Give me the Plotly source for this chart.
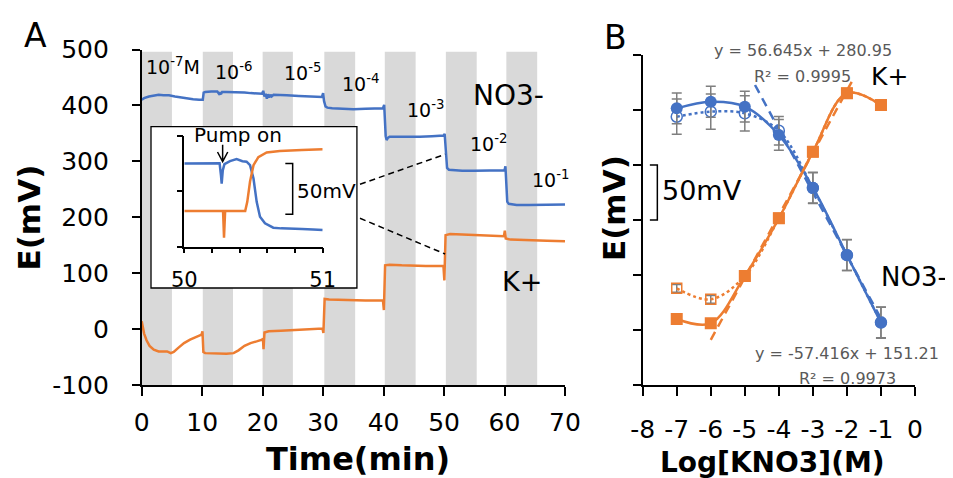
import plotly.graph_objects as go

W, H = 953, 478
OFF = 8                      # page offset of the plot inside the browser window
FW, FH = W - OFF, H - OFF    # figure size
BLUE = "#4472C4"
ORANGE = "#ED7D31"
GRAYBAND = "#D9D9D9"
ERRC = "#7F7F7F"
EQC = "#595959"
FONT = "DejaVu Sans"

# ---------------- Panel A data (time in min, potential in mV) ----------------
no3_t = [0, 0.4, 1.2, 2.0, 2.8, 3.6, 4.5, 5.5, 6.5, 7.5,
         8.5, 9.5, 10.1, 10.25, 10.5, 11.5, 12.5, 12.9, 13.0, 13.1,
         13.3, 14, 15, 16, 17, 18, 19, 19.9, 20.1, 20.3,
         20.5, 20.7, 20.9, 21.1, 21.3, 21.5, 21.8, 22.5, 24, 26,
         28, 29.8, 30.0, 30.15, 30.4, 30.7, 31.5, 33, 35, 37,
         39, 39.9, 40.1, 40.2, 40.35, 40.5, 40.7, 41, 42, 44,
         46, 48, 49.9, 50.1, 50.2, 50.35, 50.5, 50.8, 51.5, 53,
         55, 57, 59, 60.0, 60.15, 60.3, 60.45, 60.7, 61.2, 62,
         64, 66, 68, 70]
no3_e = [410, 413, 416, 418, 419, 418, 418, 416, 414, 413,
         411, 410, 410, 423, 424, 425, 425, 419, 424, 420,
         424, 424, 424, 423, 423, 422, 422, 421, 426, 416,
         421, 412, 420, 414, 419, 416, 419, 419, 418, 417,
         416, 415, 422, 408, 398, 396, 395, 394, 393, 394,
         394, 395, 401, 372, 345, 338, 342, 344, 344, 343,
         344, 345, 346, 349, 330, 300, 288, 285, 284, 283,
         283, 283, 283, 284, 291, 258, 228, 224, 223, 222,
         222, 222, 223, 223]

k_t = [0, 0.15, 0.4, 0.8, 1.3, 2.0, 2.8, 3.5, 4.2, 4.8,
       5.3, 6.0, 7.0, 8.0, 9.0, 9.9, 10.05, 10.2, 10.5, 12,
       14, 15.2, 16, 17, 18, 19, 19.9, 20.05, 20.15, 20.3,
       21, 23, 25, 27, 29, 29.9, 30.05, 30.25, 31, 33,
       35, 37, 39.9, 40.05, 40.25, 41, 43, 45, 47, 49.9,
       50.05, 50.25, 51, 53, 55, 57, 59.9, 60.05, 60.2, 61,
       63, 65, 67, 70]
k_e = [14, 5, -8, -20, -30, -37, -40, -40, -40, -43,
       -41, -34, -25, -19, -14, -10, -4, -41, -43, -44,
       -44, -43, -38, -30, -25, -22, -19, -17, -36, -6,
       -4, -3, -2, -1, 1, 1, -7, 54, 53, 52,
       52, 51, 51, 34, 114, 115, 114, 113, 113, 113,
       87, 168, 170, 169, 168, 167, 166, 176, 162, 160,
       159, 158, 158, 157]

a_xticks = [0, 10, 20, 30, 40, 50, 60, 70]
a_yticks = [-100, 0, 100, 200, 300, 400, 500]

# pump-on periods (grey bands), min
band_start = [0, 10.1, 20.0, 30.2, 40.2, 50.3, 60.3]
band_end = [5.0, 15.1, 25.0, 35.3, 45.3, 55.4, 65.4]

# inset: 50-51 min zoom (relative mV)
ins_no3_t = [50, 50.1, 50.2, 50.255, 50.265, 50.27, 50.278, 50.29, 50.33, 50.378,
             50.42, 50.45, 50.475, 50.5, 50.523, 50.547, 50.583, 50.643, 50.7, 50.764,
             50.85, 50.93, 51]
ins_no3_e = [81.8, 81.8, 81.5, 82, 70, 62, 75, 81, 84, 86,
             84, 83.5, 80, 67, 44, 29.5, 23, 18.7, 18, 18,
             17.5, 17, 16.4]
ins_k_t = [50, 50.1, 50.2, 50.28, 50.287, 50.295, 50.35, 50.44, 50.455, 50.475,
           50.5, 50.535, 50.595, 50.69, 50.85, 51]
ins_k_e = [35, 35, 35, 35, 8.8, 35, 35, 35, 44, 64,
           80, 88, 92.6, 94, 95, 95.6]
ins_xticks = [50, 50.2, 50.4, 50.6, 50.8, 51]
ins_xlabels = ["50", "", "", "", "", "51"]

# ---------------- Panel B data ----------------
logc = [-7, -6, -5, -4, -3, -2, -1]
no3_mean = [151.5, 157.5, 153.0, 127.3, 79.4, 18.2, -43.4]
no3_err = [14, 14, 14, 14, 14, 14, 14]
no3_open = [143.9, 148.5, 147.0, 131.2, 79.0, 18.0, -43.0]
no3_open_err = [16, 16, 16, 13, 14, 14, 14]
k_mean = [-40.0, -43.9, -0.9, 51.5, 112.0, 165.2, 154.5]
k_open = [-12.1, -22.1, -0.9, 51.5, 112.0, 165.2, 154.5]
k_open_err = [3.5, 3.5, 0, 0, 0, 0, 0]
no3_trend_x = [-4.7, -1.0]
no3_trend_y = [172.7, -39.6]
k_trend_x = [-6.0, -1.8]
k_trend_y = [-58.9, 179.0]
b_xticks = [-8, -7, -6, -5, -4, -3, -2, -1, 0]
b_yticks = [-100, -50, 0, 50, 100, 150, 200]


def PX(px):
    return (px - OFF) / FW


def PY(py):
    return 1 - (py - OFF) / FH


fig = go.Figure()

# Panel A traces
fig.add_trace(go.Scatter(x=no3_t, y=no3_e, mode="lines", line=dict(color=BLUE, width=2.5),
                         xaxis="x", yaxis="y", showlegend=False))
fig.add_trace(go.Scatter(x=k_t, y=k_e, mode="lines", line=dict(color=ORANGE, width=2.5),
                         xaxis="x", yaxis="y", showlegend=False))
# Inset traces
fig.add_trace(go.Scatter(x=ins_no3_t, y=ins_no3_e, mode="lines", line=dict(color=BLUE, width=2.5),
                         xaxis="x3", yaxis="y3", showlegend=False))
fig.add_trace(go.Scatter(x=ins_k_t, y=ins_k_e, mode="lines", line=dict(color=ORANGE, width=2.5),
                         xaxis="x3", yaxis="y3", showlegend=False))

# Panel B traces
errs = dict(type="data", color=ERRC, thickness=1.5, width=5)
fig.add_trace(go.Scatter(x=no3_trend_x, y=no3_trend_y, mode="lines",
                         line=dict(color=BLUE, width=2.5, dash="9px,6px"),
                         xaxis="x2", yaxis="y2", showlegend=False))
fig.add_trace(go.Scatter(x=k_trend_x, y=k_trend_y, mode="lines",
                         line=dict(color=ORANGE, width=2.5, dash="9px,6px"),
                         xaxis="x2", yaxis="y2", showlegend=False))
fig.add_trace(go.Scatter(x=logc, y=no3_open, mode="lines+markers",
                         line=dict(color=BLUE, width=2.5, dash="dot", shape="spline", smoothing=1),
                         marker=dict(symbol="circle-open", size=11, color=BLUE, line=dict(width=1.5)),
                         error_y=dict(array=no3_open_err, **errs),
                         xaxis="x2", yaxis="y2", showlegend=False))
fig.add_trace(go.Scatter(x=logc, y=no3_mean, mode="lines+markers",
                         line=dict(color=BLUE, width=2.5, shape="spline", smoothing=1),
                         marker=dict(symbol="circle", size=12, color=BLUE),
                         error_y=dict(array=no3_err, **errs),
                         xaxis="x2", yaxis="y2", showlegend=False))
fig.add_trace(go.Scatter(x=logc, y=k_open, mode="lines+markers",
                         line=dict(color=ORANGE, width=2.5, dash="dot", shape="spline", smoothing=1),
                         marker=dict(symbol="square-open", size=10, color=ORANGE, line=dict(width=1.5)),
                         error_y=dict(array=k_open_err, **errs),
                         xaxis="x2", yaxis="y2", showlegend=False))
fig.add_trace(go.Scatter(x=logc, y=k_mean, mode="lines+markers",
                         line=dict(color=ORANGE, width=2.5, shape="spline", smoothing=1),
                         marker=dict(symbol="square", size=12, color=ORANGE),
                         xaxis="x2", yaxis="y2", showlegend=False))

shapes = []
for s, e in zip(band_start, band_end):
    shapes.append(dict(type="rect", xref="x", yref="y", x0=s, x1=e, y0=-100, y1=496,
                       fillcolor=GRAYBAND, line=dict(width=0), layer="below"))
# inset frame (white box)
shapes.append(dict(type="rect", xref="x", yref="y", x0=1.54, x1=35.59, y0=73.5, y1=362,
                   fillcolor="white", line=dict(color="black", width=1.3), layer="below"))
# connectors
shapes.append(dict(type="line", xref="x", yref="y", x0=36.1, y0=259, x1=50.17, y1=312.6,
                   line=dict(color="black", width=1.5, dash="6px,4px")))
shapes.append(dict(type="line", xref="x", yref="y", x0=36.1, y0=198.1, x1=50.17, y1=134.3,
                   line=dict(color="black", width=1.5, dash="6px,4px")))
# inset 50 mV bracket
shapes.append(dict(type="path", xref="x3", yref="y3",
                   path="M 50.73,81.8 L 50.783,81.8 L 50.783,31.8 L 50.73,31.8",
                   line=dict(color="black", width=1.5)))
# pump-on arrow
shapes.append(dict(type="path", xref="x3", yref="y3",
                   path="M 50.277,100 L 50.277,83.5 M 50.24,93 L 50.277,83.5 L 50.314,93",
                   line=dict(color="black", width=1.5)))
# panel B 50 mV bracket
shapes.append(dict(type="path", xref="x2", yref="y2",
                   path="M -7.79,100 L -7.57,100 L -7.57,50 L -7.79,50",
                   line=dict(color="black", width=1.5)))

ann = []


def txt(text, px, py, size, color="black", bold=False, angle=0, xanchor="center", family=FONT):
    if bold:
        text = "<b>" + text + "</b>"
    ann.append(dict(text=text, x=PX(px), y=PY(py), xref="paper", yref="paper", showarrow=False,
                    xanchor=xanchor, yanchor="middle", textangle=angle,
                    font=dict(family=family, size=size, color=color)))


txt("A", 35, 36, 33)
txt("B", 615, 37, 33)
txt("E(mV)", 28.5, 218, 31, bold=True, angle=-90)
txt("E(mV)", 614, 208, 31, bold=True, angle=-90)
txt("Time(min)", 358, 459, 32, bold=True)
txt("Log[KNO3](M)", 772, 462, 28, bold=True)

txt("10<sup>-7</sup>M", 172.5, 66, 19)
txt("10<sup>-6</sup>", 233.5, 71, 19)
txt("10<sup>-5</sup>", 302, 72, 19)
txt("10<sup>-4</sup>", 360, 83.5, 19)
txt("10<sup>-3</sup>", 425.5, 109, 19)
txt("10<sup>-2</sup>", 488, 143, 19)
txt("10<sup>-1</sup>", 550, 179, 19)
txt("NO3-", 508, 95, 28)
txt("K+", 521.7, 281.7, 27)
txt("Pump on", 238, 135.5, 20)
txt("50mV", 295, 191, 20, xanchor="left")

txt("y = 56.645x + 280.95", 802.5, 50, 16, color=EQC)
txt("R² = 0.9995", 802, 76, 16, color=EQC)
txt("K+", 889, 76, 25)
txt("NO3-", 879, 277, 26, xanchor="left")
txt("50mV", 660, 190, 27, xanchor="left")
txt("y = -57.416x + 151.21", 847, 353, 16, color=EQC)
txt("R² = 0.9973", 847, 378, 16, color=EQC)

axis_common = dict(showline=True, linecolor="black", linewidth=1.5, ticks="outside",
                   tickcolor="black", tickwidth=1.5, showgrid=False, zeroline=False,
                   automargin=False, tickangle=0,
                   tickfont=dict(family=FONT, size=25, color="black"))


def hy(vals):
    return [str(v) for v in vals]


xa = dict(axis_common, domain=[PX(141.7), PX(565)], range=[0, 70],
          tickvals=a_xticks, ticktext=hy(a_xticks), ticklen=9, anchor="y",
          ticklabelstandoff=5)
ya = dict(axis_common, domain=[PY(385), PY(49.5)], range=[-100, 500],
          tickvals=a_yticks, ticktext=hy(a_yticks), ticklen=8, anchor="x",
          ticklabelstandoff=18)
xb = dict(axis_common, domain=[PX(642.7), PX(915)], range=[-8, 0],
          tickvals=b_xticks, ticktext=hy(b_xticks), ticklen=9, anchor="y2",
          ticklabelstandoff=12)
yb = dict(axis_common, domain=[PY(385), PY(55)], range=[-100, 200],
          tickvals=b_yticks, ticklen=8, anchor="x2", showticklabels=False)
xi = dict(axis_common, domain=[PX(184.3), PX(322.7)], range=[50, 51],
          tickvals=ins_xticks, ticktext=ins_xlabels,
          ticklen=5, anchor="y3", ticklabelstandoff=8,
          tickfont=dict(family=FONT, size=21, color="black"))
yi = dict(axis_common, domain=[PY(246.7), PY(135.7)], range=[0, 109],
          tickvals=[0, 54.5, 109], ticklen=6, anchor="x3", showticklabels=False)

fig.update_layout(
    width=FW, height=FH, autosize=False,
    margin=dict(l=0, r=0, t=0, b=0),
    paper_bgcolor="white", plot_bgcolor="white",
    font=dict(family=FONT, color="black"),
    xaxis=xa, yaxis=ya, xaxis2=xb, yaxis2=yb, xaxis3=xi, yaxis3=yi,
    shapes=shapes, annotations=ann, showlegend=False,
)

fig.write_html("out.html")
